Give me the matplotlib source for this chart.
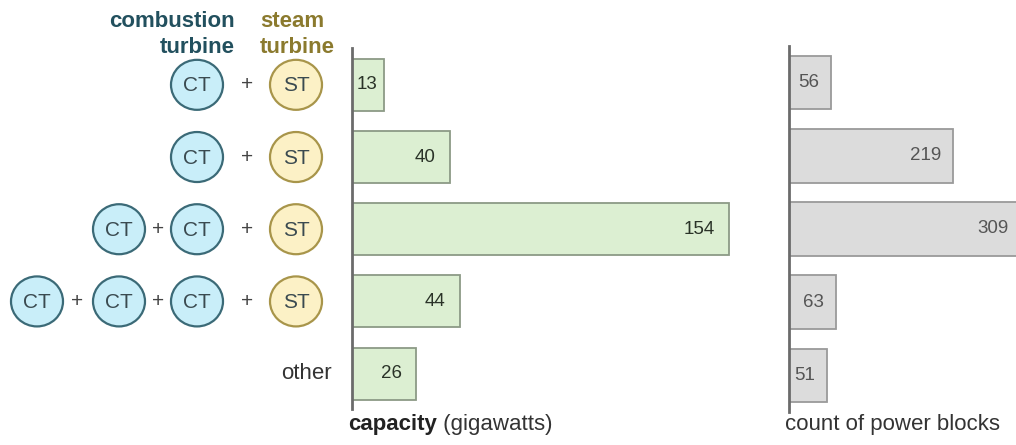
import matplotlib
matplotlib.use('Agg')
import matplotlib.pyplot as plt
from matplotlib.patches import Ellipse

plt.rcParams['font.family'] = ['Liberation Sans', 'DejaVu Sans']

# data
configs = ['CT + ST', 'CT + ST', 'CT + CT + ST', 'CT + CT + CT + ST', 'other']
n_ct = [1, 1, 2, 3, 0]
capacity_gw = [13, 40, 154, 44, 26]
power_blocks = [56, 219, 309, 63, 51]

W, H = 1016, 445
fig = plt.figure(figsize=(W/100, H/100), dpi=100)

def px_axes(x0, y0, x1, y1):
    # pixel box (top-left origin) -> figure fraction
    return fig.add_axes([x0/W, 1-y1/H, (x1-x0)/W, (y1-y0)/H])

ov = px_axes(0, 0, W, H)
ov.set_xlim(0, W)
ov.set_ylim(H, 0)
ov.axis('off')

ax1 = px_axes(352, 48, 352+160*2.448, 409)
ax2 = px_axes(789, 46, W, 412)

PX = 0.72  # points per pixel at 100 dpi

def style(ax):
    for s in ['top', 'right', 'bottom']:
        ax.spines[s].set_visible(False)
    ax.spines['left'].set_color('#6b6b6b')
    ax.spines['left'].set_linewidth(2)
    ax.spines['left'].set_zorder(5)
    ax.set_xticks([])
    ax.set_yticks([])
    ax.patch.set_alpha(0)

ax1.barh(range(len(capacity_gw)), capacity_gw, height=0.72,
         color='#dcefd2', edgecolor='#8c9a86', linewidth=1.3)
ax1.set_xlim(0, 160)
ax1.set_ylim(4.49, -0.51)
style(ax1)
for i, v in enumerate(capacity_gw):
    if v < 20:
        ax1.annotate(str(v), (0, i), xytext=(5*PX, 0), textcoords='offset points',
                     ha='left', va='center', fontsize=13.5, color='#2a3328')
    else:
        ax1.annotate(str(v), (v, i), xytext=(-14*PX, 0), textcoords='offset points',
                     ha='right', va='center', fontsize=13.5, color='#2a3328')

ax2.barh(range(len(power_blocks)), power_blocks, height=0.73,
         color='#dcdcdc', edgecolor='#9a9a9a', linewidth=1.3)
ax2.set_xlim(0, 303)
ax2.set_ylim(4.5, -0.5)
style(ax2)
for i, v in enumerate(power_blocks):
    ax2.annotate(str(v), (v, i), xytext=(-12*PX, 0), textcoords='offset points',
                 ha='right', va='center', fontsize=13.5, color='#555555',
                 annotation_clip=False)

# left side: turbine diagrams
ct_fill, ct_edge = '#c9eef9', '#3b6a77'
st_fill, st_edge = '#fcf1c6', '#a8954a'
st_x = 296
ct_xs = [197, 119, 37]
plus_xs = [247, 158, 77]

def circle(x, y, txt, fc, ec):
    ov.add_patch(Ellipse((x, y), 52, 50, facecolor=fc, edgecolor=ec, linewidth=1.6))
    ov.text(x, y+1, txt, ha='center', va='center', fontsize=15, color='#3a4a50')

def plus(x, y):
    ov.text(x, y, '+', ha='center', va='center', fontsize=15, color='#444444')

for i, k in enumerate(n_ct):
    y = H - ax1.transData.transform((0, i))[1]
    if k == 0:
        ov.text(332, y, configs[i], ha='right', va='center', fontsize=16, color='#333333')
        continue
    circle(st_x, y, 'ST', st_fill, st_edge)
    for j in range(k):
        plus(plus_xs[j], y)
        circle(ct_xs[j], y, 'CT', ct_fill, ct_edge)

ov.text(235, 27, 'combustion', ha='right', va='baseline', fontsize=16,
        weight='bold', color='#22505e')
ov.text(235, 53, 'turbine', ha='right', va='baseline', fontsize=16,
        weight='bold', color='#22505e')
ov.text(260, 27, 'steam', ha='left', va='baseline', fontsize=16,
        weight='bold', color='#8b7a2e')
ov.text(260, 53, 'turbine', ha='left', va='baseline', fontsize=16,
        weight='bold', color='#8b7a2e')

t1 = ov.text(348, 430, 'capacity', ha='left', va='baseline', fontsize=16,
             weight='bold', color='#222222')
ov.annotate(' (gigawatts)', xy=(1, 0), xycoords=t1, ha='left', va='bottom',
            fontsize=16, color='#333333')
ov.text(785, 430, 'count of power blocks', ha='left', va='baseline', fontsize=16,
        color='#333333')

fig.savefig('out.png', dpi=100, facecolor='white')
